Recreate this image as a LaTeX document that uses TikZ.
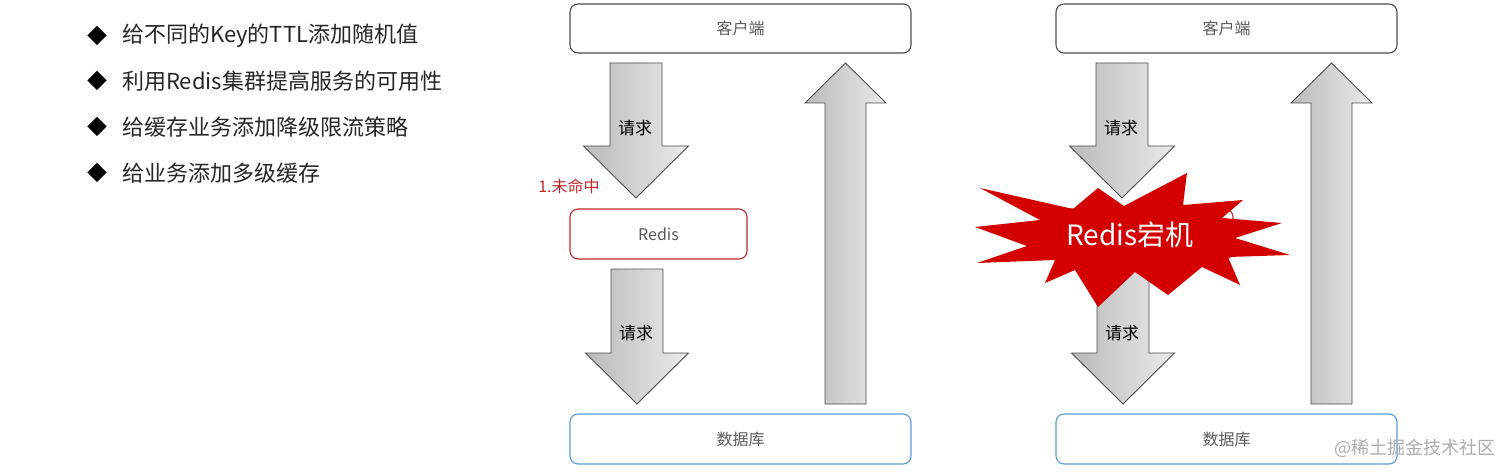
\documentclass[tikz,border=0pt]{standalone}
\usepackage{fontspec}
\setmainfont{Noto Sans CJK SC}
\definecolor{boxgray}{HTML}{4D4D4D}
\definecolor{txtgray}{HTML}{5A5A5A}
\definecolor{redisred}{HTML}{C0272D}
\definecolor{dbblue}{HTML}{5A9BD5}
\definecolor{starred}{HTML}{D40000}
\definecolor{arrowdark}{HTML}{BABABA}
\definecolor{arrowlight}{HTML}{EAEAEA}
\tikzset{
  boxnode/.style={draw, rounded corners=8pt, line width=1.1pt, fill=white,
    text=txtgray, font=\fontsize{16}{18}\selectfont, inner sep=0pt},
  clientbox/.style={boxnode, draw=boxgray, minimum width=341pt, minimum height=49pt},
  dbbox/.style={boxnode, draw=dbblue, minimum width=341pt, minimum height=50pt},
  redisbox/.style={boxnode, draw=redisred, minimum width=177pt, minimum height=50pt},
  blockarrow/.style={draw=boxgray, line width=0.9pt, left color=arrowdark, right color=arrowlight, line join=miter},
  reqlabel/.style={inner sep=0pt, text=black, font=\fontsize{17}{19}\selectfont},
  bullettext/.style={inner sep=0pt, anchor=west, text=black!85, font=\fontsize{22}{24}\selectfont},
  bulletmark/.style={inner sep=0pt, text=black, font=\fontsize{20}{22}\selectfont}
}
\newcommand{\downblock}[6]{% cx, top, headbase, tip, halfshaft, halfhead
  \path[blockarrow] ({#1-#5},#2) -- ({#1+#5},#2) -- ({#1+#5},#3) -- ({#1+#6},#3)
    -- (#1,#4) -- ({#1-#6},#3) -- ({#1-#5},#3) -- cycle;}
\newcommand{\upblock}[6]{% cx, bottom, headbase, tip, halfshaft, halfhead
  \path[blockarrow] ({#1-#5},#2) -- ({#1+#5},#2) -- ({#1+#5},#3) -- ({#1+#6},#3)
    -- (#1,#4) -- ({#1-#6},#3) -- ({#1-#5},#3) -- cycle;}
\begin{document}
\begin{tikzpicture}[x=1pt,y=-1pt]
\useasboundingbox (0,0) rectangle (1512,473);
\fill[white] (0,0) rectangle (1512,473);

% bullet list
\foreach \yy/\tt [count=\i] in {36/给不同的Key的TTL添加随机值, 81/利用Redis集群提高服务的可用性, 127/给缓存业务添加降级限流策略, 173/给业务添加多级缓存}{
  \node[bulletmark] (bm\i) at (97,\yy) {◆};
  \node[bullettext] (bt\i) at (122,\yy) {\tt};
}

% ---------- left diagram ----------
\downblock{636}{63}{146}{198}{26}{52.5}
\node[reqlabel] (lreq1) at (635,128) {请求};
\downblock{637}{269}{353}{404}{26}{51.5}
\node[reqlabel] (lreq2) at (636,333) {请求};
\upblock{845.5}{404}{103}{63}{20.5}{40.5}

\node[clientbox] (lclient) at (740.5,28.5) {客户端};
\node[redisbox] (lredis) at (658.5,234) {Redis};
\node[dbbox] (ldb) at (740.5,439) {数据库};
\node[inner sep=0pt, text=redisred, font=\fontsize{16}{18}\selectfont] (miss) at (569,186) {1.未命中};

% ---------- right diagram ----------
\downblock{1122}{63}{146}{198}{26}{52.5}
\node[reqlabel] (rreq1) at (1121,128) {请求};
\downblock{1123}{269}{353}{404}{26}{51.5}
\node[reqlabel] (rreq2) at (1122,333) {请求};
\upblock{1331.5}{404}{103}{63}{20.5}{40.5}

\node[clientbox] (rclient) at (1226.5,28.5) {客户端};
\node[redisbox] (rredis) at (1144.5,234) {};
\node[dbbox] (rdb) at (1226.5,439) {数据库};

% starburst
\fill[starred] (975,227) -- (1027,246) -- (977,263) -- (1055,260) -- (1045,283)
  -- (1075,270) -- (1098,307) -- (1135,272) -- (1168,295) -- (1202,267)
  -- (1240,285) -- (1228,257) -- (1290,255) -- (1235,238) -- (1282,223)
  -- (1222,218) -- (1243,200) -- (1183,205) -- (1187,173) -- (1124,206)
  -- (1098,188) -- (1073,209) -- (980,188) -- (1040,220) -- cycle;
\node[inner sep=0pt, text=white, font=\fontsize{28}{30}\selectfont] (down) at (1130,235) {Redis宕机};

% watermark
\node[inner sep=0pt, text=black!32, font=\fontsize{18}{20}\selectfont] (wm) at (1415,448) {@稀土掘金技术社区};
\end{tikzpicture}
\end{document}
